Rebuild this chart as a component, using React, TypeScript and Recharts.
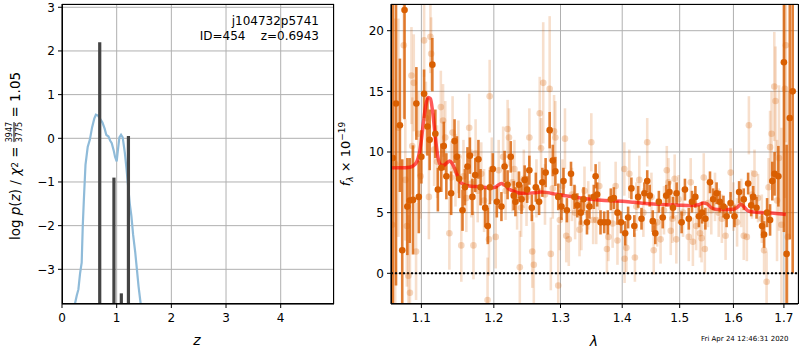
import React from 'react';
import { ComposedChart, Line, Scatter, XAxis, YAxis, CartesianGrid, ErrorBar, ReferenceLine } from 'recharts';

// ---------- left panel: log p(z) ----------
const pzZ = [0.2, 0.238, 0.27, 0.3, 0.33, 0.36, 0.38, 0.4, 0.43, 0.47, 0.51, 0.55, 0.59, 0.62, 0.66, 0.7, 0.74, 0.78, 0.81, 0.85, 0.88, 0.91, 0.95, 0.97, 1.0, 1.02, 1.05, 1.08, 1.11, 1.15, 1.18, 1.21, 1.24, 1.27, 1.3, 1.34, 1.37, 1.4, 1.44, 1.48];
const pzLogp = [-4.6, -3.78, -3.6, -3.46, -3.1, -2.85, -2.0, -1.4, -0.6, -0.2, -0.03, 0.25, 0.45, 0.54, 0.52, 0.44, 0.36, 0.22, 0.08, 0.04, -0.05, -0.11, -0.3, -0.42, -0.53, -0.3, 0.02, 0.08, 0.02, -0.34, -0.7, -1.1, -1.5, -1.79, -2.2, -2.62, -3.0, -3.39, -3.8, -4.3];
const spikeZ = [0.69, 0.95, 1.085, 1.215];
const spikeTop = [2.2, -0.9, -3.55, 0.05];
const zTicks = [0, 1, 2, 3, 4];
const logpTicks = [-3, -2, -1, 0, 1, 2, 3];

// ---------- right panel: spectrum ----------
const darkLam = [1.063, 1.067, 1.072, 1.075, 1.078, 1.0816, 1.0847, 1.089, 1.0934, 1.0966, 1.1, 1.1036, 1.108, 1.111, 1.1146, 1.1186, 1.122, 1.1266, 1.13, 1.1335, 1.14, 1.1447, 1.148, 1.151, 1.1557, 1.159, 1.1626, 1.166, 1.1695, 1.1735, 1.178, 1.181, 1.1876, 1.1913, 1.1944, 1.1985, 1.2043, 1.211, 1.2156, 1.22, 1.2246, 1.229, 1.2315, 1.2368, 1.2406, 1.2452, 1.249, 1.2523, 1.256, 1.262, 1.267, 1.272, 1.277, 1.2832, 1.288, 1.292, 1.2965, 1.3015, 1.3047, 1.31, 1.3165, 1.322, 1.3265, 1.332, 1.3365, 1.342, 1.346, 1.353, 1.356, 1.3585, 1.364, 1.37, 1.376, 1.381, 1.386, 1.392, 1.398, 1.405, 1.41, 1.4155, 1.4205, 1.427, 1.4328, 1.4378, 1.4427, 1.447, 1.4523, 1.4567, 1.463, 1.4698, 1.476, 1.4817, 1.488, 1.4945, 1.5035, 1.5095, 1.5165, 1.5223, 1.5285, 1.535, 1.541, 1.547, 1.5556, 1.5615, 1.568, 1.574, 1.581, 1.587, 1.5945, 1.602, 1.611, 1.62, 1.6285, 1.6345, 1.6385, 1.645, 1.656, 1.66, 1.666, 1.672, 1.6765, 1.681, 1.6887, 1.7, 1.7055, 1.712, 1.718];
const darkFlux = [9.5, 14.0, 12.2, 1.9, 21.7, 5.5, 6.0, 6.05, 14.0, 6.3, 9.6, 14.8, 12.1, 11.0, 17.2, 11.5, 6.9, 8.7, 10.5, 8.0, 6.6, 10.9, 9.6, 7.8, 5.2, 7.1, 8.8, 9.7, 6.3, 8.1, 9.4, 7.1, 5.4, 3.9, 7.1, 8.6, 5.9, 5.5, 8.8, 7.3, 9.6, 6.4, 5.9, 7.3, 6.1, 7.7, 6.9, 8.5, 5.4, 7.1, 5.9, 7.5, 8.3, 11.8, 9.3, 8.4, 6.3, 5.5, 7.6, 5.2, 8.2, 6.3, 5.6, 5.0, 6.1, 4.2, 5.5, 6.3, 8.0, 6.5, 4.2, 4.2, 4.2, 6.1, 6.2, 5.0, 4.2, 3.3, 4.6, 7.0, 3.9, 6.3, 4.5, 6.6, 7.6, 6.4, 4.3, 3.3, 5.9, 4.6, 6.4, 6.7, 5.4, 6.6, 4.2, 6.9, 4.5, 5.9, 6.3, 4.7, 5.0, 4.5, 7.5, 6.1, 6.6, 5.9, 5.5, 4.7, 5.8, 4.7, 6.7, 6.1, 7.4, 5.6, 6.3, 5.4, 3.9, 3.2, 5.0, 4.4, 7.6, 8.2, 8.0, 17.4, 1.6, 12.8, 15.0];
const darkErr = [13, 15, 5.5, 7.5, 9, 4.0, 3.5, 4.5, 3.0, 3.0, 2.2, 2.0, 2.4, 2.5, 2.2, 2.0, 1.8, 2.0, 2.0, 1.9, 1.8, 1.8, 1.7, 1.6, 1.7, 1.5, 1.6, 1.5, 1.5, 1.4, 1.6, 1.5, 1.6, 1.5, 1.4, 1.3, 1.3, 1.2, 1.3, 1.2, 1.3, 1.2, 1.2, 1.1, 1.2, 1.2, 1.1, 1.2, 1.1, 1.2, 1.1, 1.2, 1.2, 1.5, 1.3, 1.2, 1.1, 1.1, 1.1, 1.0, 1.0, 1.0, 1.0, 1.0, 1.0, 1.0, 1.0, 1.0, 1.0, 1.0, 1.0, 0.9, 1.0, 0.9, 0.9, 1.0, 0.9, 1.0, 0.9, 0.9, 0.9, 0.9, 0.9, 0.9, 0.9, 0.9, 0.9, 0.9, 0.9, 0.9, 0.9, 0.9, 0.9, 0.9, 0.9, 0.9, 0.9, 0.9, 0.9, 0.9, 0.9, 0.9, 0.9, 0.9, 0.9, 0.9, 0.9, 0.9, 0.9, 0.9, 0.9, 0.9, 0.9, 0.9, 0.9, 0.9, 1.0, 1.1, 1.2, 1.3, 1.6, 1.8, 2.5, 14, 9, 10, 15];

const lightLam = [1.062, 1.066, 1.07, 1.077, 1.079, 1.081, 1.083, 1.085, 1.087, 1.088, 1.09, 1.093, 1.096, 1.099, 1.1036, 1.106, 1.11, 1.112, 1.113, 1.117, 1.121, 1.126, 1.129, 1.132, 1.1376, 1.14, 1.142, 1.146, 1.15, 1.154, 1.157, 1.161, 1.165, 1.168, 1.171, 1.174, 1.177, 1.182, 1.186, 1.191, 1.193, 1.194, 1.197, 1.2027, 1.207, 1.2135, 1.217, 1.22, 1.222, 1.227, 1.23, 1.234, 1.238, 1.24, 1.244, 1.248, 1.2523, 1.2567, 1.259, 1.263, 1.268, 1.27, 1.2733, 1.276, 1.2832, 1.285, 1.288, 1.29, 1.292, 1.2965, 1.299, 1.303, 1.307, 1.309, 1.313, 1.318, 1.323, 1.33, 1.333, 1.338, 1.344, 1.349, 1.352, 1.357, 1.362, 1.3745, 1.377, 1.384, 1.389, 1.392, 1.4035, 1.404, 1.407, 1.412, 1.4215, 1.424, 1.429, 1.436, 1.4427, 1.45, 1.454, 1.46, 1.466, 1.472, 1.477, 1.48, 1.484, 1.487, 1.491, 1.494, 1.498, 1.506, 1.5165, 1.52, 1.524, 1.53, 1.537, 1.54, 1.544, 1.546, 1.552, 1.558, 1.565, 1.572, 1.578, 1.585, 1.5947, 1.6, 1.607, 1.615, 1.62, 1.626, 1.63, 1.636, 1.641, 1.648, 1.6555, 1.66, 1.665, 1.669, 1.672, 1.675, 1.6805, 1.683, 1.686, 1.69, 1.695, 1.702, 1.704, 1.708];
const lightFlux = [4, 9, 12, 18.8, 7.7, 3.9, -0.2, -1.6, 16.3, 10.5, 15.7, 1.8, 11.5, 8.0, 19.2, 12.8, 6.3, 19.5, 18.1, 10.2, 9.2, 13.7, 12.6, 11.2, 3.3, 7.9, 11.6, 8.5, 9.6, 2.3, 8.0, 6.2, 12.0, 7.4, 2.3, 9.9, 6.8, 8.2, 6.0, -2.2, 2.8, 14.6, 8.6, 3.0, 8.5, 9.6, 6.8, 11.9, 11.2, 7.5, 8.6, 6.0, 0.5, 5.4, 7.8, 6.3, 11.2, 1.8, 0.7, 7.0, 13.2, 10.3, 15.7, 6.5, 15.2, 1.6, 7.0, 11.7, 11.2, -1.0, 4.4, 7.2, 11.1, 3.1, 2.8, 6.5, 5.0, 3.6, 4.1, 6.8, 5.6, 10.8, 4.4, 4.4, 7.2, 2.0, 3.0, 4.1, 7.2, 2.7, 8.6, 1.2, 2.1, 8.2, 1.3, 5.5, 7.7, 5.0, 10.8, 6.3, 1.9, 4.2, 2.8, 5.2, 8.5, 7.5, 3.5, 4.5, 7.8, 2.8, 6.1, 5.0, 3.0, 7.5, 2.6, 3.9, 3.3, 2.9, 7.9, 2.0, 5.8, 5.2, 6.3, 5.0, 4.5, 3.1, 8.3, 5.5, 4.2, 5.8, 3.1, 3.0, 12.2, 6.5, 8.2, 6.2, 4.5, 1.9, -0.7, 7.1, 10.4, 11.5, 15.4, 14.2, 6.0, 9.5, 4, 15.2, 18.8, 3];
const lightErr = [12, 12, 9, 6, 5, 5, 5, 6, 4, 4, 4, 4, 3.5, 3.5, 3, 3, 3.5, 3, 3, 3, 3, 3, 3, 3, 3, 3, 3, 3, 3, 3, 3, 2.8, 2.8, 2.8, 2.8, 2.8, 2.6, 2.6, 2.6, 3.5, 3, 3, 2.6, 2.6, 2.5, 2.5, 2.4, 2.4, 2.4, 2.4, 2.4, 2.4, 3, 2.4, 2.4, 2.4, 2.4, 3, 3.5, 2.4, 3, 2.5, 5, 2.5, 6, 3, 2.5, 3, 3, 5, 2.5, 2.2, 2.5, 2.2, 2.2, 2.2, 2.2, 2.2, 2.2, 2.0, 2.0, 2.4, 2.0, 2.0, 2.0, 2.0, 2.0, 2.0, 2.0, 2.0, 2.2, 2.0, 2.0, 2.0, 2.0, 2.0, 2.0, 2.0, 2.0, 2.0, 2.0, 2.0, 2.0, 2.0, 2.0, 2.0, 2.0, 2.0, 2.0, 2.0, 2.0, 2.0, 2.0, 2.0, 2.0, 2.0, 2.0, 2.0, 2.0, 2.0, 2.0, 2.0, 2.0, 2.0, 2.0, 2.0, 2.0, 2.0, 2.0, 2.0, 2.0, 2.0, 2.4, 2.0, 2.0, 2.0, 2.0, 2.0, 2.5, 2.4, 3, 3.5, 4.5, 4.5, 5, 6, 8, 9, 8, 12];

const modelLam = [1.062, 1.075, 1.085, 1.09, 1.094, 1.097, 1.1, 1.103, 1.106, 1.109, 1.112, 1.115, 1.118, 1.121, 1.124, 1.127, 1.13, 1.134, 1.138, 1.141, 1.145, 1.149, 1.153, 1.158, 1.165, 1.175, 1.185, 1.195, 1.202, 1.207, 1.211, 1.216, 1.222, 1.23, 1.24, 1.25, 1.26, 1.27, 1.28, 1.29, 1.3, 1.32, 1.34, 1.36, 1.38, 1.4, 1.42, 1.44, 1.46, 1.48, 1.5, 1.52, 1.535, 1.543, 1.55, 1.558, 1.57, 1.585, 1.6, 1.608, 1.614, 1.62, 1.628, 1.64, 1.66, 1.68, 1.704];
const modelFlux = [8.7, 8.7, 8.75, 8.9, 9.2, 9.8, 11.0, 12.6, 13.9, 14.5, 14.4, 13.3, 11.6, 10.0, 9.1, 8.9, 8.9, 9.1, 9.25, 9.1, 8.6, 8.0, 7.5, 7.3, 7.2, 7.15, 7.1, 7.05, 7.1, 7.3, 7.4, 7.25, 6.95, 6.75, 6.6, 6.6, 6.65, 6.7, 6.65, 6.55, 6.45, 6.3, 6.15, 6.05, 5.98, 5.95, 5.85, 5.75, 5.7, 5.65, 5.62, 5.6, 5.65, 5.8, 5.75, 5.4, 5.25, 5.25, 5.28, 5.45, 5.7, 5.5, 5.15, 5.05, 5.0, 4.95, 4.85];
const lamTicks = [1.1, 1.2, 1.3, 1.4, 1.5, 1.6, 1.7];
const fluxTicks = [0, 5, 10, 15, 20];

// axis limits
const Z_DOMAIN: [number, number] = [0, 4.975];
const LOGP_DOMAIN: [number, number] = [-3.794, 3.075];
const LAM_DOMAIN: [number, number] = [1.0606, 1.729];
const FLUX_DOMAIN: [number, number] = [-2.53, 22.2];

// ---------- derived tables ----------
// error bars are trimmed to the visible y range (acts as the plot clip)
const clipErr = (y: number, e: number): [number, number] => [
  Math.max(0, Math.min(e, y - FLUX_DOMAIN[0])),
  Math.max(0, Math.min(e, FLUX_DOMAIN[1] - y)),
];
const pzData = pzZ.map((x, i) => ({ x, y: pzLogp[i] }));
const spikeData = spikeZ.map((x, i) => [{ x, y: -5 }, { x, y: spikeTop[i] }]);
const darkData = darkLam.map((x, i) => ({ x, y: darkFlux[i], e: clipErr(darkFlux[i], darkErr[i]) }));
const lightData = lightLam.map((x, i) => ({ x, y: lightFlux[i], e: clipErr(lightFlux[i], lightErr[i]) }));
const modelData = modelLam.map((x, i) => ({ x, y: modelFlux[i] }));

const FONT = "'DejaVu Sans', sans-serif";
const ORANGE = '#d95f02';
const tickStyle = { fill: '#000', fontSize: 12, fontFamily: FONT };
const minus = (v: number) => (v < 0 ? '\u2212' + Math.abs(v) : String(v));

const DarkDot = (p: any) => <circle cx={p.cx} cy={p.cy} r={3.3} fill={ORANGE} />;
const LightDot = (p: any) => <circle cx={p.cx} cy={p.cy} r={3.3} fill="rgba(217,95,2,0.26)" />;

const abs = (l: number, t: number): React.CSSProperties => ({ position: 'absolute', left: l, top: t });

export default function App() {
  return (
    <div style={{ position: 'absolute', left: 0, top: 0, width: 800, height: 350, background: '#fff', overflow: 'hidden', fontFamily: FONT }}>
      {/* Left panel */}
      <div style={abs(0, 0)}>
        <ComposedChart width={340} height={350} margin={{ top: 4, right: 6, bottom: 16, left: 12 }}>
          <CartesianGrid stroke="#b0b0b0" strokeWidth={1} />
          <XAxis type="number" dataKey="x" domain={Z_DOMAIN} ticks={zTicks} allowDataOverflow height={30}
            tickSize={4} tickMargin={5} stroke="#000" tick={tickStyle} />
          <YAxis type="number" dataKey="y" domain={LOGP_DOMAIN} ticks={logpTicks} allowDataOverflow width={50}
            tickSize={4} tickMargin={3} stroke="#000" tick={tickStyle} tickFormatter={minus} />
          <Line data={pzData} dataKey="y" stroke="#8fbbd9" strokeWidth={2.2} dot={false} isAnimationActive={false} type="linear" />
          {spikeData.map((d, i) => (
            <Line key={i} data={d} dataKey="y" stroke="#444" strokeWidth={3.2} dot={false} isAnimationActive={false} type="linear" />
          ))}
        </ComposedChart>
      </div>
      <div style={{ ...abs(62, 4), width: 272, height: 300, border: '1px solid #000', boxSizing: 'border-box', pointerEvents: 'none' }} />
      <div style={{ ...abs(150, 14), width: 169, textAlign: 'right', fontSize: 12, lineHeight: '15px', whiteSpace: 'pre' }}>
        {'j104732p5741\nID=454    z=0.6943'}
      </div>
      <div style={{ ...abs(14, 156), transform: 'translate(-50%, -50%) rotate(-90deg)', whiteSpace: 'nowrap', fontSize: 13.5, display: 'flex', alignItems: 'center' }}>
        <span>log&nbsp;</span><i>p</i><span>(</span><i>z</i><span>)&nbsp;/&nbsp;</span><i>χ</i>
        <sup style={{ fontSize: 9 }}>2</sup>
        <span>&nbsp;=&nbsp;</span>
        <span style={{ display: 'inline-flex', flexDirection: 'column', fontSize: 8, lineHeight: '9px', textAlign: 'center' }}>
          <span style={{ borderBottom: '1px solid #000' }}>3947</span>
          <span>3775</span>
        </span>
        <span>&nbsp;=&nbsp;1.05</span>
      </div>
      <div style={{ ...abs(197, 340), transform: 'translate(-50%, -50%)', fontSize: 14, fontStyle: 'italic' }}>z</div>

      {/* Right panel */}
      <div style={abs(340, 0)}>
        <ComposedChart width={460} height={350} margin={{ top: 4, right: 2, bottom: 16, left: 11 }}>
          <CartesianGrid stroke="#b0b0b0" strokeWidth={1} />
          <XAxis type="number" dataKey="x" scale="log" domain={LAM_DOMAIN} ticks={lamTicks} allowDataOverflow height={30}
            tickSize={4} tickMargin={5} stroke="#000" tick={tickStyle} />
          <YAxis type="number" dataKey="y" domain={FLUX_DOMAIN} ticks={fluxTicks} allowDataOverflow width={40}
            tickSize={4} tickMargin={3} stroke="#000" tick={tickStyle} />
          <Scatter data={lightData} dataKey="y" shape={LightDot} isAnimationActive={false}>
            <ErrorBar dataKey="e" direction="y" width={0} stroke="rgba(217,95,2,0.2)" strokeWidth={2.6} />
          </Scatter>
          <Scatter data={darkData} dataKey="y" shape={DarkDot} isAnimationActive={false}>
            <ErrorBar dataKey="e" direction="y" width={0} stroke="rgba(217,95,2,0.8)" strokeWidth={2.6} />
          </Scatter>
          <Line data={modelData} dataKey="y" stroke="rgba(255,0,0,0.65)" strokeWidth={3.5} dot={false} isAnimationActive={false} type="monotone" />
          <ReferenceLine y={0} stroke="#000" strokeDasharray="2 2" strokeWidth={2} />
        </ComposedChart>
      </div>
      <div style={{ ...abs(391, 4), width: 408, height: 300, border: '1px solid #000', boxSizing: 'border-box', pointerEvents: 'none' }} />
      <div style={{ ...abs(346, 154), transform: 'translate(-50%, -50%) rotate(-90deg)', whiteSpace: 'nowrap', fontSize: 13 }}>
        <i>f</i><sub style={{ fontSize: 9, fontStyle: 'italic' }}>λ</sub> × 10<sup style={{ fontSize: 9 }}>−19</sup>
      </div>
      <div style={{ ...abs(594, 341), transform: 'translate(-50%, -50%)', fontSize: 14, fontStyle: 'italic' }}>λ</div>
      <div style={{ ...abs(701, 335), fontSize: 7, whiteSpace: 'nowrap' }}>Fri Apr 24 12:46:31 2020</div>
    </div>
  );
}
